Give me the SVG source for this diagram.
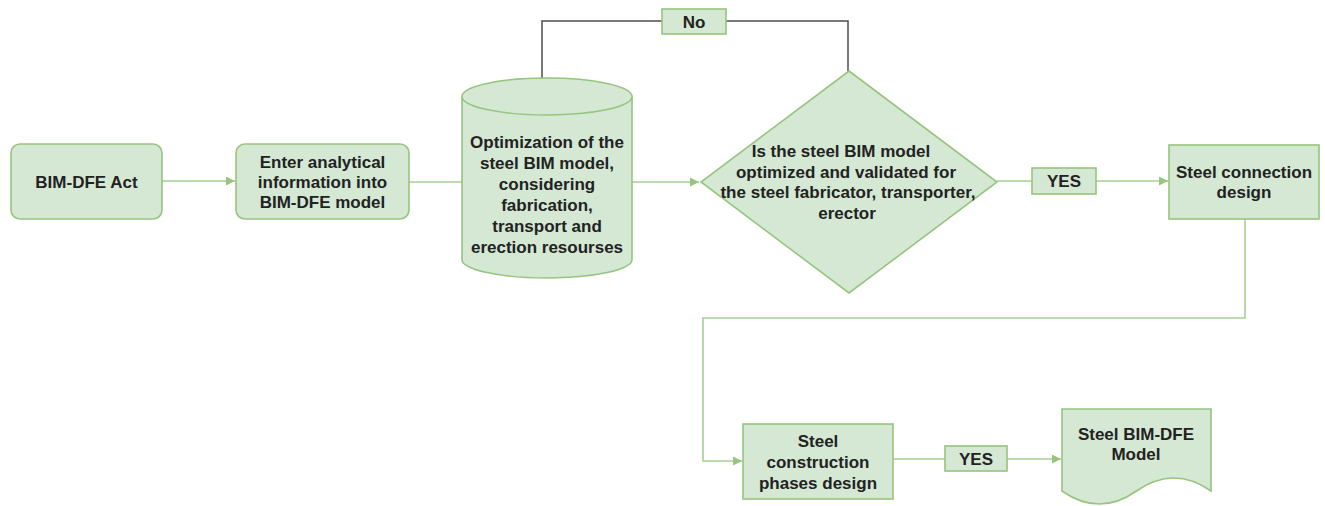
<svg xmlns="http://www.w3.org/2000/svg" width="1325" height="506" viewBox="0 0 1325 506">
<defs>
<style>
.node{fill:#d5e8d4;stroke:#97c47e;stroke-width:1.6}
.lbl{fill:#d5e8d4;stroke:#97c47e;stroke-width:1.6}
.t{font-family:"Liberation Sans",Arial,sans-serif;font-size:17px;font-weight:bold;fill:#222;text-anchor:middle}
.c{fill:none;stroke:#a6cf94;stroke-width:1.6}
.g{fill:none;stroke:#4d4d4d;stroke-width:1.5}
</style>
<marker id="arr" viewBox="0 0 10 10" refX="10" refY="5" markerWidth="9" markerHeight="9" markerUnits="userSpaceOnUse" orient="auto">
<path d="M0,0 L10,5 L0,10 Z" fill="#97c47e"/>
</marker>
</defs>
<rect width="1325" height="506" fill="#fff"/>
<g id="connectors">
<line class="c" x1="162" y1="181" x2="235" y2="181" marker-end="url(#arr)"/>
<line class="c" x1="409" y1="182" x2="462" y2="182"/>
<line class="c" x1="632" y1="182" x2="699" y2="182" marker-end="url(#arr)"/>
<polyline class="g" points="542,78 542,21 848,21 848,71"/>
<line class="c" x1="997" y1="181" x2="1168" y2="181" marker-end="url(#arr)"/>
<polyline class="c" points="1245,219 1245,318 703,318 703,461 742,461" marker-end="url(#arr)"/>
<line class="c" x1="893" y1="459" x2="1061" y2="459" marker-end="url(#arr)"/>
</g>
<g id="n-act">
<rect class="node" x="11" y="144" width="151" height="75" rx="9"/>
<text class="t" x="86.5" y="188">BIM-DFE Act</text>
</g>
<g id="n-enter">
<rect class="node" x="236" y="144" width="173" height="75" rx="9"/>
<text class="t" x="322.5" y="168">Enter analytical</text>
<text class="t" x="322.5" y="188">information into</text>
<text class="t" x="322.5" y="208">BIM-DFE model</text>
</g>
<g id="n-optim">
<path class="node" d="M462,96.5 A85,18.5 0 0 1 632,96.5 L632,259.5 A85,18.5 0 0 1 462,259.5 Z"/>
<path class="node" d="M462,96.5 A85,18.5 0 0 0 632,96.5" fill="none"/>
<text class="t" x="547" y="148">Optimization of the</text>
<text class="t" x="547" y="169">steel BIM model,</text>
<text class="t" x="547" y="190">considering</text>
<text class="t" x="547" y="211">fabrication,</text>
<text class="t" x="547" y="232">transport and</text>
<text class="t" x="547" y="253">erection resourses</text>
</g>
<g id="n-decision">
<polygon class="node" points="849,71 997,182 849,293 701,182"/>
<text class="t" x="841" y="157">Is the steel BIM model</text>
<text class="t" x="846" y="178">optimized and validated for</text>
<text class="t" x="848" y="198">the steel fabricator, transporter,</text>
<text class="t" x="847" y="219">erector</text>
</g>
<g id="l-no">
<rect class="lbl" x="662" y="9" width="64" height="25"/>
<text class="t" x="694" y="27.5">No</text>
</g>
<g id="l-yes1">
<rect class="lbl" x="1032" y="168" width="64" height="26"/>
<text class="t" x="1064" y="187">YES</text>
</g>
<g id="n-conn">
<rect class="node" x="1169" y="145" width="150" height="74"/>
<text class="t" x="1244" y="178">Steel connection</text>
<text class="t" x="1244" y="198">design</text>
</g>
<g id="n-phases">
<rect class="node" x="743" y="424" width="150" height="75"/>
<text class="t" x="818" y="447">Steel</text>
<text class="t" x="818" y="468">construction</text>
<text class="t" x="818" y="489">phases design</text>
</g>
<g id="l-yes2">
<rect class="lbl" x="945" y="446" width="62" height="25"/>
<text class="t" x="976" y="465">YES</text>
</g>
<g id="n-model">
<path class="node" d="M1062,409 L1211,409 L1211,491 Q1173.75,465 1136.5,491 Q1099.25,517 1062,491 Z"/>
<text class="t" x="1136" y="440">Steel BIM-DFE</text>
<text class="t" x="1136" y="460">Model</text>
</g>
</svg>
